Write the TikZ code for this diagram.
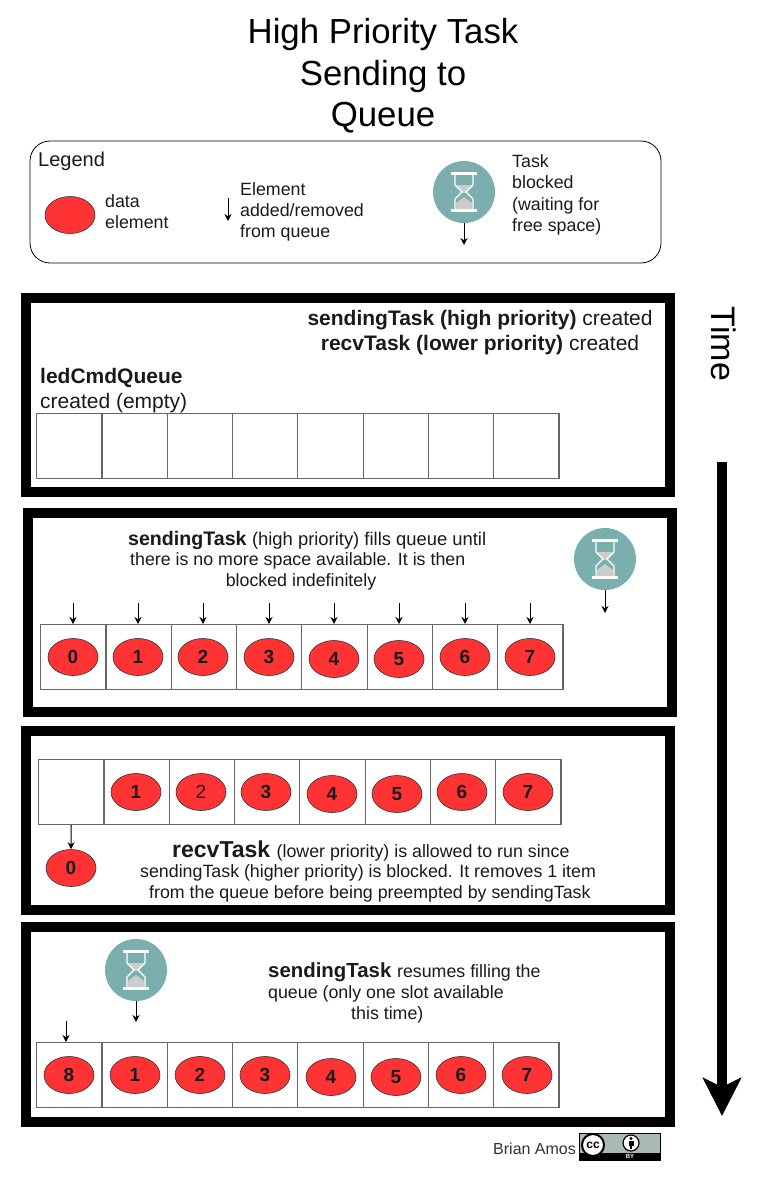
\documentclass[tikz,border=0pt]{standalone}
\usepackage{fontspec}
\setmainfont{Liberation Sans}
\usetikzlibrary{positioning,shapes.geometric,arrows.meta}
\definecolor{tealicon}{HTML}{7AAFAE}
\definecolor{redelem}{HTML}{FF3333}
\definecolor{sandgray}{HTML}{CCCCCC}
\definecolor{badgegray}{HTML}{AAB9B6}
\definecolor{inktext}{HTML}{1A1A1A}
\tikzset{
  panel_box/.style={draw=black,line width=10pt,fill=white},
  cell_box/.style={draw=black!60,line width=1.2pt,minimum width=65.3pt,minimum height=65pt,inner sep=0pt,anchor=north west},
  data_elem/.style={ellipse,draw=black!80,line width=.6pt,fill=redelem,minimum width=50pt,minimum height=37pt,inner sep=0pt,font=\fontsize{19}{20}\selectfont\bfseries,text=inktext},
  slim_arrow/.style={draw=black,line width=1pt,-{Stealth[length=7pt,width=7pt]}},
  msg/.style={inner sep=0pt,anchor=west,text=inktext,font=\fontsize{17.8}{21.3}\selectfont},
  msg_big/.style={msg,font=\fontsize{21}{25}\selectfont},
  title_text/.style={inner sep=0pt,text=black,font=\fontsize{34.8}{41.5}\selectfont}
}
\newcommand{\queuerow}[3]{
  \foreach \i in {0,...,7}
    \node[cell_box] (#1_\i) at ({#2+65.3*\i},#3) {};
}
\newcommand{\blockedicon}[3]{
  \node[circle,fill=tealicon,minimum size=62pt,inner sep=0pt] (#1) at (#2,#3) {};
  \begin{scope}[shift={(#1.center)}]
    \fill[white] (-13,-20) rectangle (13,-17);
    \fill[white] (-13,17) rectangle (13,20);
    \fill[sandgray] (-8,-7) -- (8,-7) -- (8,-5) -- (1,1) -- (-1,1) -- (-8,-5) -- cycle;
    \fill[sandgray] (0,5) -- (8,11) -- (8,17) -- (-8,17) -- (-8,11) -- cycle;
    \draw[white,line width=1.2pt] (-9,-17) -- (-9,-7) -- (-2,0) -- (-9,7) -- (-9,17);
    \draw[white,line width=1.2pt] (9,-17) -- (9,-7) -- (2,0) -- (9,7) -- (9,17);
  \end{scope}
}
\begin{document}
\begin{tikzpicture}[x=1pt,y=-1pt]
\useasboundingbox (0,0) rectangle (757,1180);
\node[title_text,align=center] (title) at (383,76) {High Priority Task\\Sending to\\Queue};
\draw[black,line width=.8pt,rounded corners=20pt] (30,141) rectangle (661,263);
\node[msg,font=\fontsize{20}{22}\selectfont] (legend_label) at (38,161.5) {Legend};
\node[data_elem] (legend_elem) at (70,215) {};
\node[msg,align=left] (legend_elem_text) at (105,211.5) {data\\element};
\coordinate (legend_top) at (228,198);
\coordinate (legend_bot) at (228,221);
\draw[slim_arrow] (legend_top) -- (legend_bot);
\node[msg,align=left] (legend_add_text) at (240,212) {Element\\added/removed\\from queue};
\blockedicon{legend_icon}{464}{192}
\coordinate (legend_icon_end) at (464,245);
\draw[slim_arrow] (legend_icon.south) -- (legend_icon_end);
\node[msg,align=left] (legend_icon_text) at (512,195) {Task\\blocked\\(waiting for\\free space)};

\draw[panel_box] (26,298) rectangle (670,492);
\draw[panel_box] (28,513) rectangle (672,712);
\draw[panel_box] (26,731) rectangle (670,910);
\draw[panel_box] (26,927) rectangle (670,1122);

\node[msg_big,anchor=center,align=center] (created_text) at (480,332.5) {\textbf{sendingTask (high priority)} created\\\textbf{recvTask (lower priority)} created};
\node[msg_big,align=left] (queue_text) at (40,390.5) {\textbf{ledCmdQueue}\\created (empty)};
\queuerow{qa}{36}{413}

\node[msg] (fill_line_a) at (128,540) {\fontsize{19.6}{22}\selectfont\textbf{sendingTask} \fontsize{18.4}{22}\selectfont (high priority) fills queue until};
\node[msg] (fill_line_b) at (130,561) {there is no more space available. It is then};
\node[msg,anchor=center] (fill_line_c) at (301,582) {blocked indefinitely};
\queuerow{qb}{40}{624}
\foreach \i/\xc/\yc in {0/73/657,1/138/657,2/203/657,3/269/657,4/334/659,5/399/659,6/465/657,7/530/657}{
  \node[data_elem] (eb_\i) at (\xc,\yc) {\i};
  \coordinate (ab_\i) at (\xc,603);
  \draw[slim_arrow] (ab_\i) -- (ab_\i |- qb_\i.north);
}
\blockedicon{fill_icon}{605}{559}
\coordinate (fill_icon_end) at (605,613);
\draw[slim_arrow] (fill_icon.south) -- (fill_icon_end);

\queuerow{qc}{38}{759}
\foreach \i/\xc/\yc in {1/136/792,3/266/792,4/332/794,5/397/794,6/462/792,7/528/792}{
  \node[data_elem] (ec_\i) at (\xc,\yc) {\i};
}
\node[data_elem,font=\fontsize{19}{20}\selectfont] (ec_2) at (201,792) {2};
\node[data_elem] (ec_0) at (71,868) {0};
\draw[slim_arrow] (qc_0.south) -- (ec_0.north);
\node[msg] (recv_line_a) at (172,851) {\fontsize{23}{25}\selectfont\textbf{recvTask} \fontsize{17.8}{20}\selectfont (lower priority) is allowed to run since};
\node[msg] (recv_line_b) at (140,873) {sendingTask (higher priority) is blocked. It removes 1 item};
\node[msg] (recv_line_c) at (149,894) {from the queue before being preempted by sendingTask};

\blockedicon{resume_icon}{136}{970}
\coordinate (resume_icon_end) at (136,1022);
\draw[slim_arrow] (resume_icon.south) -- (resume_icon_end);
\node[msg] (resume_line_a) at (268,972) {\fontsize{20.4}{22}\selectfont\textbf{sendingTask} \fontsize{17.8}{20}\selectfont resumes filling the};
\node[msg] (resume_line_b) at (268,994) {queue (only one slot available};
\node[msg] (resume_line_c) at (351,1015) {this time)};
\queuerow{qd}{36}{1042}
\foreach \i/\lab/\xc/\yc in {0/8/69/1075,1/1/135/1075,2/2/200/1075,3/3/265/1075,4/4/331/1077,5/5/396/1077,6/6/461/1075,7/7/527/1075}{
  \node[data_elem] (ed_\i) at (\xc,\yc) {\lab};
}
\coordinate (ad_top) at (66,1021);
\coordinate (ad_bot) at (66,1042);
\draw[slim_arrow] (ad_top) -- (ad_bot);

\node[title_text,rotate=-90,font=\fontsize{34}{40}\selectfont] (time_label) at (724,344) {Time};
\coordinate (time_top) at (722,462);
\coordinate (time_bot) at (722,1116);
\draw[line width=10pt,-{Stealth[length=38pt,width=38pt,inset=9pt]}] (time_top) -- (time_bot);

\node[msg,text=black!80,font=\fontsize{16}{20}\selectfont] (credit) at (493,1149) {Brian Amos};
\fill[badgegray] (579,1133) rectangle (660,1160);
\fill[black] (579,1153) rectangle (660,1160);
\draw[black,line width=.6pt] (579,1133) rectangle (660,1160);
\node[circle,draw=black,line width=2pt,fill=white,minimum size=22pt,inner sep=0pt,font=\fontsize{12}{12}\selectfont\bfseries] (cc_mark) at (593,1145) {cc};
\node[circle,draw=black,line width=1.2pt,fill=white,minimum size=16pt,inner sep=0pt] (by_mark) at (631,1143) {};
\fill[black] (631,1138.5) circle (1.6pt);
\fill[black] (628.5,1141) rectangle (633.5,1145.5);
\fill[black] (629.7,1145) rectangle (632.3,1149);
\node[inner sep=0pt,text=white,font=\fontsize{6}{6}\selectfont\bfseries] (by_text) at (630,1156.5) {BY};
\end{tikzpicture}
\end{document}
